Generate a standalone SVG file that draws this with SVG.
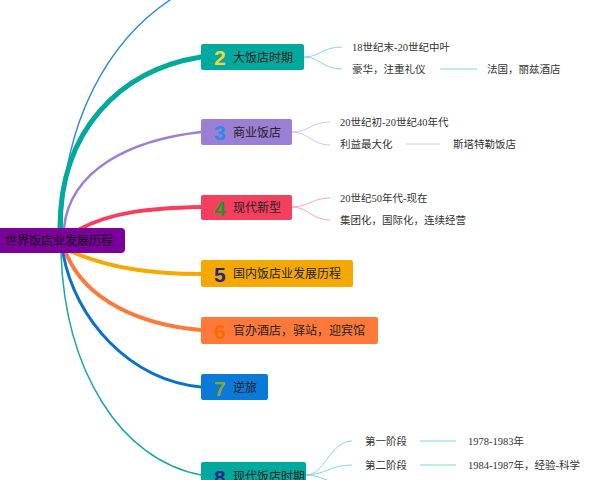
<svg xmlns="http://www.w3.org/2000/svg" width="600" height="480" viewBox="0 0 600 480">
<style>
.n{font-family:"Noto Sans CJK SC","Liberation Sans",sans-serif;font-size:12px;fill:#222}
.num{font-family:"Liberation Sans",sans-serif;font-size:21px;font-weight:bold}
.t{font-family:"Liberation Serif","Noto Sans CJK SC",serif;font-size:10.5px;fill:#333}
.c{fill:none;stroke-linecap:round}
</style>
<rect width="600" height="480" fill="#fff"/>
<g id="connectors">
<path class="c" d="M62,228 C62,120 110,40 170,0" stroke="#2a8be0" stroke-width="1.5"/>
<path class="c" d="M60,228 C60,130 120,70 201,57" stroke="#00a99d" stroke-width="5"/>
<path class="c" d="M64,228 C70,170 130,140 201,132" stroke="#9b7fd4" stroke-width="2.5"/>
<path class="c" d="M78,230 C110,212 150,208 201,207" stroke="#f43f5e" stroke-width="4"/>
<path class="c" d="M72,252 C110,268 150,274 201,274" stroke="#f5a800" stroke-width="4"/>
<path class="c" d="M66,253 C85,300 140,325 201,330" stroke="#ff7a3a" stroke-width="4"/>
<path class="c" d="M63,253 C75,320 130,380 201,387" stroke="#0a6fd0" stroke-width="3"/>
<path class="c" d="M61,253 C65,370 120,460 201,475" stroke="#1aa9a0" stroke-width="1.5"/>
<g stroke="#7fd9d6" stroke-width="1" fill="none">
<path d="M304,57 C320,57 322,47 342,47"/><path d="M304,57 C320,57 322,69 342,69"/><path d="M440,69 H477"/>
<path d="M306,475 C325,475 330,441 352,441"/><path d="M306,475 C325,475 330,465 352,465"/><path d="M306,475 C320,475 325,482 340,482"/>
<path d="M420,441 H456"/><path d="M420,465 H456"/>
</g>
<g stroke="#d2c4f0" stroke-width="1" fill="none">
<path d="M292,132 C308,132 312,122 330,122"/><path d="M292,132 C308,132 312,145 330,145"/><path d="M406,144 H440"/>
</g>
<g stroke="#f9a8b5" stroke-width="1" fill="none">
<path d="M292,207 C308,207 312,198 330,198"/><path d="M292,207 C308,207 312,220 330,220"/>
</g>
</g>
<g id="root"><rect x="-6" y="228" width="131" height="25" rx="4" fill="#7b0099"/><text x="5" y="245" class="n" style="fill:#111">世界饭店业发展历程</text></g>
<g id="n2"><rect x="201" y="44" width="103" height="26" rx="2" fill="#00a99d"/><text x="214" y="65" class="num" fill="#f5d33b">2</text><text x="233" y="62" class="n">大饭店时期</text></g>
<g id="n3"><rect x="201" y="119" width="91" height="26" rx="2" fill="#9b7fd4"/><text x="214" y="140" class="num" fill="#2a8be0">3</text><text x="233" y="137" class="n">商业饭店</text></g>
<g id="n4"><rect x="201" y="195" width="91" height="25" rx="2" fill="#f43f5e"/><text x="214" y="216" class="num" fill="#1a9a2a">4</text><text x="233" y="212" class="n">现代新型</text></g>
<g id="n5"><rect x="201" y="260" width="152" height="27" rx="2" fill="#f5a800"/><text x="214" y="282" class="num" fill="#1e2a8a">5</text><text x="233" y="278" class="n">国内饭店业发展历程</text></g>
<g id="n6"><rect x="201" y="317" width="177" height="27" rx="2" fill="#ff7a3a"/><text x="214" y="339" class="num" fill="#ff6a00">6</text><text x="233" y="335" class="n">官办酒店，驿站，迎宾馆</text></g>
<g id="n7"><rect x="201" y="374" width="67" height="26" rx="2" fill="#0a7ad9"/><text x="214" y="396" class="num" fill="#8aa52a">7</text><text x="233" y="392" class="n">逆旅</text></g>
<g id="n8"><rect x="201" y="462" width="105" height="28" rx="2" fill="#00a99d"/><text x="214" y="485" class="num" fill="#1e2a8a">8</text><text x="233" y="481" class="n">现代饭店时期</text></g>
<g id="leaves">
<text x="352" y="51" class="t">18世纪末-20世纪中叶</text>
<text x="352" y="73" class="t">豪华，注重礼仪</text><text x="487" y="73" class="t">法国，丽兹酒店</text>
<text x="340" y="126" class="t">20世纪初-20世纪40年代</text>
<text x="340" y="148" class="t">利益最大化</text><text x="453" y="148" class="t">斯塔特勒饭店</text>
<text x="340" y="202" class="t">20世纪50年代-现在</text>
<text x="340" y="224" class="t">集团化，国际化，连续经营</text>
<text x="365" y="445" class="t">第一阶段</text><text x="468" y="445" class="t">1978-1983年</text>
<text x="365" y="469" class="t">第二阶段</text><text x="468" y="469" class="t">1984-1987年，经验-科学</text>
</g>
</svg>
